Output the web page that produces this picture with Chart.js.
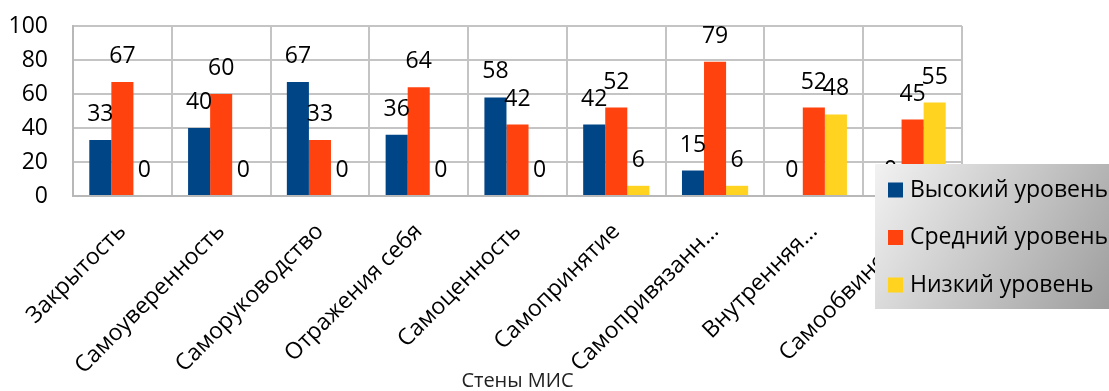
<!DOCTYPE html>
<html>
<head>
<meta charset="utf-8">
<script src="https://cdn.jsdelivr.net/npm/chart.js@4/dist/chart.umd.min.js"></script>
<style>
  html, body { margin: 0; padding: 0; background: #ffffff; }
  #wrap { width: 1109px; height: 391px; }
</style>
</head>
<body>
<div id="wrap"><canvas id="chart" width="1109" height="391"></canvas></div>
<script>
// Categories (walls of the MIS scale) and the share of each level, %
const categories = [
  'Закрытость',
  'Самоуверенность',
  'Саморуководство',
  'Отражения себя',
  'Самоценность',
  'Самопринятие',
  'Самопривязанн…',
  'Внутренняя…',
  'Самообвинение'
];
const highLevel = [33, 40, 67, 36, 58, 42, 15, 0, 0];
const midLevel  = [67, 60, 33, 64, 42, 52, 79, 52, 45];
const lowLevel  = [0, 0, 0, 0, 0, 6, 6, 48, 55];
const yTicks = [0, 20, 40, 60, 80, 100];
const seriesNames = ['Высокий уровень', 'Средний уровень', 'Низкий уровень'];
const seriesColors = ['#004586', '#ff420e', '#ffd320'];
const axisTitle = 'Стены МИС';

const FONT = '"Open Sans", "Noto Sans", sans-serif';

// Numbers printed above every bar
const valueLabels = {
  id: 'valueLabels',
  afterDatasetsDraw(chart) {
    const ctx = chart.ctx;
    ctx.save();
    ctx.font = '23px ' + FONT;
    ctx.fillStyle = '#000000';
    ctx.textAlign = 'center';
    ctx.textBaseline = 'alphabetic';
    chart.data.datasets.forEach((ds, i) => {
      chart.getDatasetMeta(i).data.forEach((bar, j) => {
        ctx.fillText(String(ds.data[j]), bar.x, bar.y - 19);
      });
    });
    ctx.restore();
  }
};

// Legend box with a grey gradient, laid over the right part of the plot
const overlayLegend = {
  id: 'overlayLegend',
  afterDraw(chart) {
    const ctx = chart.ctx;
    const x0 = 875, y0 = 164, w = 240, h = 145;
    ctx.save();
    const g = ctx.createLinearGradient(x0, y0, x0 + w, y0 + h);
    g.addColorStop(0, '#f2f2f2');
    g.addColorStop(1, '#9c9c9c');
    ctx.fillStyle = g;
    ctx.fillRect(x0, y0, w, h);
    ctx.font = '23px ' + FONT;
    ctx.textAlign = 'left';
    ctx.textBaseline = 'middle';
    chart.data.datasets.forEach((ds, i) => {
      const cy = 190 + i * 47.5;
      ctx.fillStyle = ds.backgroundColor;
      ctx.fillRect(888, cy - 7.5, 15, 15);
      ctx.fillStyle = '#000000';
      ctx.fillText(ds.label, 910, cy);
    });
    ctx.restore();
  }
};

new Chart(document.getElementById('chart'), {
  type: 'bar',
  data: {
    labels: categories,
    datasets: [
      { label: seriesNames[0], data: highLevel, backgroundColor: seriesColors[0] },
      { label: seriesNames[1], data: midLevel,  backgroundColor: seriesColors[1] },
      { label: seriesNames[2], data: lowLevel,  backgroundColor: seriesColors[2] }
    ]
  },
  options: {
    responsive: false,
    animation: false,
    devicePixelRatio: 1,
    layout: { padding: { top: 26, right: 147, left: 0, bottom: 0 } },
    datasets: { bar: { categoryPercentage: 0.67, barPercentage: 1.0, borderWidth: 0 } },
    plugins: {
      legend: { display: false },
      tooltip: { enabled: false }
    },
    scales: {
      x: {
        afterFit(scale) { scale.height = 195; },
        grid: { color: '#c4c4c4', lineWidth: 2, drawTicks: false, offset: true },
        border: { color: '#b8b8b8', width: 2 },
        ticks: {
          autoSkip: false,
          minRotation: 45,
          maxRotation: 45,
          padding: 22,
          color: '#000000',
          font: { family: FONT, size: 23 }
        },
        title: {
          display: true,
          text: axisTitle,
          color: '#222222',
          font: { family: FONT, size: 20 },
          padding: { top: 0, bottom: -2 }
        }
      },
      y: {
        min: 0,
        max: 100,
        afterFit(scale) { scale.width = 73; },
        afterBuildTicks(scale) { scale.ticks = yTicks.map(v => ({ value: v })); },
        grid: { color: '#c4c4c4', lineWidth: 2, drawTicks: true, tickLength: 22, tickColor: 'rgba(0,0,0,0)' },
        border: { color: '#b8b8b8', width: 2 },
        ticks: {
          padding: 3,
          color: '#000000',
          font: { family: FONT, size: 23 }
        }
      }
    }
  },
  plugins: [valueLabels, overlayLegend]
});
</script>
</body>
</html>
